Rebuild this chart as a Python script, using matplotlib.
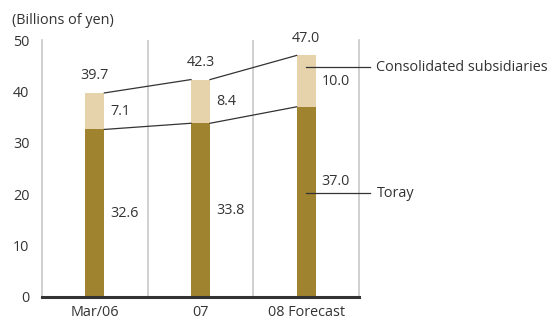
import numpy as np
import matplotlib

matplotlib.use("Agg")
import matplotlib.pyplot as plt

plt.rcParams["font.family"] = ["Open Sans", "DejaVu Sans"]

categories = ["Mar/06", "07", "08 Forecast"]
toray = [32.6, 33.8, 37.0]
subsidiaries = [7.1, 8.4, 10.0]
totals = [39.7, 42.3, 47.0]
toray_label_y = [16.3, 16.9, 22.5]

dark = "#a0832f"
light = "#e6d2ab"
grid = "#c8c8c8"
ink = "#333333"
fs = 10.4

fig = plt.figure(figsize=(5.52, 3.2), dpi=100)
ax = fig.add_axes([0.0761, 0.0719, 0.5742, 0.8031])

x = np.arange(len(categories))
w = 0.18
ax.bar(x, toray, width=w, color=dark, zorder=3)
ax.bar(x, subsidiaries, width=w, bottom=toray, color=light, zorder=3)

# connector lines between bars
for i in range(len(x) - 1):
    ax.plot([x[i] + w / 2, x[i + 1] - w / 2], [totals[i], totals[i + 1]], color=ink, lw=0.9, zorder=4)
    ax.plot([x[i] + w / 2, x[i + 1] - w / 2], [toray[i], toray[i + 1]], color=ink, lw=0.9, zorder=4)

for i in range(len(x)):
    ax.annotate(f"{totals[i]:.1f}", (x[i], totals[i]), xytext=(0, 17), textcoords="offset pixels",
                ha="center", va="center", fontsize=fs, color=ink)
    ax.annotate(f"{subsidiaries[i]:.1f}", (x[i] + w / 2, toray[i] + subsidiaries[i] / 2), xytext=(6, 0),
                textcoords="offset pixels", ha="left", va="center", fontsize=fs, color=ink)
    ax.annotate(f"{toray[i]:.1f}", (x[i] + w / 2, toray_label_y[i]), xytext=(6, 0),
                textcoords="offset pixels", ha="left", va="center", fontsize=fs, color=ink)

# series leader labels
lx = x[-1]
ax.plot([lx, 2.6], [44.7, 44.7], color=ink, lw=0.9, zorder=4, clip_on=False)
ax.text(2.665, 44.7, "Consolidated subsidiaries", ha="left", va="center", fontsize=fs, color=ink)
ax.plot([lx, 2.6], [20.2, 20.2], color=ink, lw=0.9, zorder=4, clip_on=False)
ax.text(2.665, 20.2, "Toray", ha="left", va="center", fontsize=fs, color=ink)

ax.set_xlim(-0.5, 2.5)
ax.set_ylim(0, 50)
ax.set_yticks([0, 10, 20, 30, 40, 50])
ax.set_xticks(x)
ax.set_xticklabels(categories)
ax.tick_params(length=0, labelsize=fs, colors=ink)
ax.tick_params(axis="x", pad=6)
ax.tick_params(axis="y", pad=9)
for xv in [0.5, 1.5]:
    ax.axvline(xv, color=grid, lw=1.2, zorder=1)
ax.spines["top"].set_visible(False)
ax.spines["left"].set_color(grid)
ax.spines["left"].set_linewidth(1.2)
ax.spines["right"].set_color(grid)
ax.spines["right"].set_linewidth(1.2)
ax.spines["bottom"].set_color(ink)
ax.spines["bottom"].set_linewidth(2.2)
ax.spines["bottom"].set_zorder(5)

fig.text(12 / 552, 1 - 20 / 320, "(Billions of yen)", ha="left", va="center", fontsize=fs, color=ink)

fig.savefig("out.png", dpi=100)
